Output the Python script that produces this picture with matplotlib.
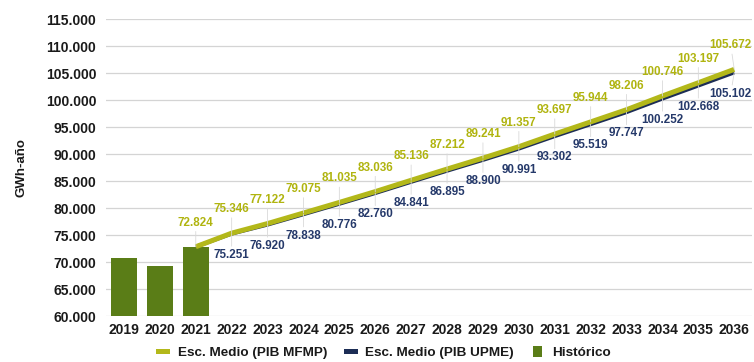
import matplotlib.pyplot as plt
from matplotlib.lines import Line2D
from matplotlib.patches import Patch

plt.rcParams['font.family'] = ['Liberation Sans', 'DejaVu Sans']

years = list(range(2019, 2037))
hist_years = [2019, 2020, 2021]
hist_vals = [70800, 69300, 72824]

mfmp_years = list(range(2021, 2037))
mfmp_vals = [72824, 75346, 77122, 79075, 81035, 83036, 85136, 87212, 89241,
             91357, 93697, 95944, 98206, 100746, 103197, 105672]

upme_years = list(range(2021, 2037))
upme_vals = [72824, 75251, 76920, 78838, 80776, 82760, 84841, 86895, 88900,
             90991, 93302, 95519, 97747, 100252, 102668, 105102]

C_BAR = '#5a7d17'
C_MFMP = '#b3b81a'
C_UPME = '#1c2d55'
C_MFMP_TXT = '#b0b40f'
C_UPME_TXT = '#25396a'


def fmt(v):
    return f'{v:,.0f}'.replace(',', '.')


pos = {y: i for i, y in enumerate(years)}
last = years[-1]

fig = plt.figure(figsize=(7.54, 3.62), dpi=100)
ax = fig.add_axes([0.1406, 0.127, 0.857, 0.8205])

ax.bar([pos[y] for y in hist_years], hist_vals, width=0.72, color=C_BAR,
       zorder=2)
ax.plot([pos[y] for y in upme_years], upme_vals, color=C_UPME, lw=2.8,
        solid_capstyle='butt', zorder=3)
ax.plot([pos[y] for y in mfmp_years], mfmp_vals, color=C_MFMP, lw=3.6,
        solid_capstyle='butt', zorder=4)

# data labels with thin leader lines; the last column is nudged in from the edge
for y, v in zip(mfmp_years, mfmp_vals):
    dx = -2.5 if y == last else 0
    ax.annotate(fmt(v), (pos[y], v), xytext=(dx, 13), textcoords='offset points',
                ha='center', va='bottom', fontsize=8.4, fontweight='bold',
                color=C_MFMP_TXT, zorder=5,
                arrowprops=dict(arrowstyle='-', color='#d9d9d9', lw=0.6,
                                shrinkA=0, shrinkB=0))
for y, v in zip(upme_years[1:], upme_vals[1:]):
    dx = -2.5 if y == last else 0
    ax.annotate(fmt(v), (pos[y], v), xytext=(dx, -11), textcoords='offset points',
                ha='center', va='top', fontsize=8.4, fontweight='bold',
                color=C_UPME_TXT, zorder=5,
                arrowprops=dict(arrowstyle='-', color='#d9d9d9', lw=0.6,
                                shrinkA=0, shrinkB=0))

ax.set_xlim(-0.5, len(years) - 0.5)
ax.set_ylim(60000, 115000)
ax.set_yticks(range(60000, 115001, 5000))
ax.set_yticklabels([fmt(t) for t in range(60000, 115001, 5000)])
ax.set_xticks(range(len(years)))
ax.set_xticklabels([str(y) for y in years])
ax.tick_params(axis='both', length=0, labelsize=10, colors='#1a1a1a')
ax.tick_params(axis='y', pad=7)
ax.tick_params(axis='x', pad=5)
for lab in ax.get_xticklabels() + ax.get_yticklabels():
    lab.set_fontweight('bold')

ax.grid(axis='y', color='#d4d4d4', lw=0.9, zorder=0)
ax.set_axisbelow(True)
for s in ax.spines.values():
    s.set_visible(False)

ax.set_ylabel('GWh-año', fontsize=9.5, fontweight='bold', color='#1a1a1a',
              labelpad=13)

handles = [
    Line2D([0], [0], color=C_MFMP, lw=3.6),
    Line2D([0], [0], color=C_UPME, lw=3.6),
    Patch(facecolor=C_BAR),
]
labels = ['Esc. Medio (PIB MFMP)', 'Esc. Medio (PIB UPME)', 'Histórico']
leg = fig.legend(handles, labels, loc='center', bbox_to_anchor=(0.51, 0.027),
                 ncol=3, frameon=False, fontsize=9.7, handlelength=0.65,
                 handleheight=0.9, columnspacing=1.4, handletextpad=0.8,
                 borderpad=0.1)
for t in leg.get_texts():
    t.set_fontweight('bold')
    t.set_color('#1a1a1a')

fig.savefig('out.png', dpi=100)
